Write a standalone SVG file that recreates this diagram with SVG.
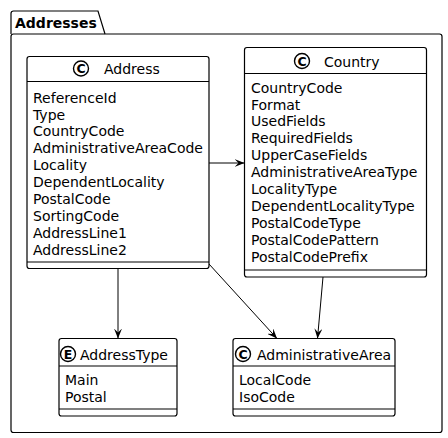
<svg xmlns="http://www.w3.org/2000/svg" width="448" height="438" viewBox="0 0 448 438">
<defs>
<style>
text{font-family:"DejaVu Sans",Verdana,sans-serif;font-size:14px;fill:#000}
.pk{font-weight:bold}
.box{fill:#fff;stroke:#000;stroke-width:1.2}
.ln{stroke:#000;stroke-width:1.2;fill:none}
.cc{fill:#fff;stroke:#000;stroke-width:1.4}
.cl{font-size:12.5px;font-weight:bold;text-anchor:middle}
.edge{stroke:#000;stroke-width:1;fill:none}
</style>
<marker id="ah" viewBox="0 0 10 8" refX="10" refY="4" markerWidth="10" markerHeight="8" markerUnits="userSpaceOnUse" orient="auto">
<path d="M0,0 L10,4 L0,8 L4,4 Z" fill="#000"/>
</marker>
</defs>
<g id="pkg-Addresses">
<path class="ln" d="M11,34 L11,13.5 Q11,11 13.5,11 L98,11 L105,34"/>
<rect class="ln" x="11" y="34" width="431" height="398.5" rx="2.5"/>
<text class="pk" x="15" y="27.5">Addresses</text>
</g>
<g id="node-Address">
<rect class="box" x="27" y="56.5" width="182" height="212" rx="2.5"/>
<circle class="cc" cx="81" cy="68.5" r="7.5"/>
<text class="cl" x="81" y="73">C</text>
<text x="104" y="74">Address</text>
<line class="ln" x1="27" y1="81.5" x2="209" y2="81.5"/>
<text x="33" y="102.5">ReferenceId</text>
<text x="33" y="119.5">Type</text>
<text x="33" y="136.4">CountryCode</text>
<text x="33" y="153.3">AdministrativeAreaCode</text>
<text x="33" y="170.3">Locality</text>
<text x="33" y="187.2">DependentLocality</text>
<text x="33" y="204.2">PostalCode</text>
<text x="33" y="221.1">SortingCode</text>
<text x="33" y="238.1">AddressLine1</text>
<text x="33" y="255">AddressLine2</text>
<line class="ln" x1="27" y1="262" x2="209" y2="262"/>
</g>
<g id="node-Country">
<rect class="box" x="244.5" y="47.5" width="182" height="229.5" rx="2.5"/>
<circle class="cc" cx="302" cy="61" r="7.5"/>
<text class="cl" x="302" y="65.5">C</text>
<text x="324" y="66.5">Country</text>
<line class="ln" x1="244.5" y1="73.5" x2="426.5" y2="73.5"/>
<text x="251" y="92.5">CountryCode</text>
<text x="251" y="109.5">Format</text>
<text x="251" y="126.4">UsedFields</text>
<text x="251" y="143.4">RequiredFields</text>
<text x="251" y="160.3">UpperCaseFields</text>
<text x="251" y="177.3">AdministrativeAreaType</text>
<text x="251" y="194.2">LocalityType</text>
<text x="251" y="211.2">DependentLocalityType</text>
<text x="251" y="228.1">PostalCodeType</text>
<text x="251" y="245.1">PostalCodePattern</text>
<text x="251" y="262">PostalCodePrefix</text>
<line class="ln" x1="244.5" y1="270" x2="426.5" y2="270"/>
</g>
<g id="node-AddressType">
<rect class="box" x="59" y="338.5" width="118" height="77.5" rx="2.5"/>
<circle class="cc" cx="68" cy="354" r="7.5"/>
<text class="cl" x="68" y="358.5">E</text>
<text x="80" y="360">AddressType</text>
<line class="ln" x1="59" y1="366" x2="177" y2="366"/>
<text x="65" y="385">Main</text>
<text x="65" y="402">Postal</text>
<line class="ln" x1="59" y1="409" x2="177" y2="409"/>
</g>
<g id="node-AdministrativeArea">
<rect class="box" x="233" y="338.5" width="162" height="77.5" rx="2.5"/>
<circle class="cc" cx="243" cy="354" r="7.5"/>
<text class="cl" x="243" y="358.5">C</text>
<text x="257" y="360">AdministrativeArea</text>
<line class="ln" x1="233" y1="366" x2="395" y2="366"/>
<text x="239" y="385">LocalCode</text>
<text x="239" y="402">IsoCode</text>
<line class="ln" x1="233" y1="409" x2="395" y2="409"/>
</g>
<g id="connectors">
<path class="edge" d="M209,163 L244.5,163" marker-end="url(#ah)"/>
<path class="edge" d="M118,268.5 L118,338.5" marker-end="url(#ah)"/>
<path class="edge" d="M209,264 L277,338.5" marker-end="url(#ah)"/>
<path class="edge" d="M323,277 L317.5,338.5" marker-end="url(#ah)"/>
</g>
</svg>
